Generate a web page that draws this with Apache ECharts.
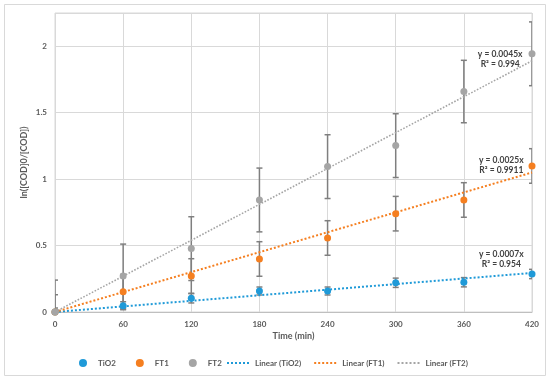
<!DOCTYPE html>
<html>
<head>
<meta charset="utf-8">
<script src="https://cdn.jsdelivr.net/npm/echarts@6/dist/echarts.min.js"></script>
<style>
html,body{margin:0;padding:0;background:#fff;}
#c{width:550px;height:380px;}
</style>
</head>
<body>
<div id="c"></div>
<script>
// ---- data ----
var times = [0, 60, 120, 180, 240, 300, 360, 420];
var tio2 = [0, 0.047, 0.103, 0.158, 0.158, 0.22, 0.224, 0.286];
var ft1  = [0, 0.153, 0.271, 0.399, 0.557, 0.74, 0.843, 1.099];
var ft2  = [0, 0.271, 0.477, 0.843, 1.094, 1.252, 1.659, 1.943];
var tio2Err = [0.03, 0.03, 0.035, 0.03, 0.03, 0.035, 0.035, 0.035];
var ft1Err  = [0.13, 0.13, 0.13, 0.13, 0.13, 0.13, 0.13, 0.13];
var ft2Err  = [0.24, 0.24, 0.24, 0.24, 0.24, 0.24, 0.235, 0.24];
var seriesNames = ['TiO2', 'FT1', 'FT2'];
var slopes = [0.0007, 0.0025, 0.0045];
var r2 = ['0.954', '0.9911', '0.994'];
var eqLabelPos = [[393, 0.40], [393, 1.106], [392, 1.90]];
var yTicks = [0, 0.5, 1, 1.5, 2];

var colors = ['#1f9ad8', '#f57f20', '#a5a5a5'];
var values = [tio2, ft1, ft2];
var errs = [tio2Err, ft1Err, ft2Err];
var FONT = 'Lato';
var TXT = '#595959';

function pts(v){ return times.map(function(t,i){ return [t, v[i]]; }); }
function errData(v,e){ return times.map(function(t,i){ return [t, v[i], e[i]]; }); }

var series = [];
// error bars
values.forEach(function(v, k){
  series.push({
    type: 'custom',
    name: seriesNames[k] + ' err',
    data: errData(v, errs[k]),
    clip: true,
    z: 2,
    silent: true,
    renderItem: function(params, api){
      var x = api.value(0), y = api.value(1), e = api.value(2);
      var top = api.coord([x, y + e]);
      var bot = api.coord([x, y - e]);
      var w = 3;
      var st = {stroke: '#7f7f7f', lineWidth: 1.5};
      return {type: 'group', children: [
        {type: 'line', shape: {x1: top[0], y1: top[1], x2: bot[0], y2: bot[1]}, style: st},
        {type: 'line', shape: {x1: top[0]-w, y1: top[1], x2: top[0]+w, y2: top[1]}, style: st},
        {type: 'line', shape: {x1: bot[0]-w, y1: bot[1], x2: bot[0]+w, y2: bot[1]}, style: st}
      ]};
    }
  });
});
// trend lines
slopes.forEach(function(s, k){
  series.push({
    type: 'line',
    name: 'Linear (' + seriesNames[k] + ')',
    data: [[0, 0], [420, s * 420]],
    symbol: 'none',
    z: 3,
    color: colors[k],
    lineStyle: {color: colors[k], width: k === 2 ? 1.6 : 2, type: 'dotted'},
    markPoint: {
      symbol: 'circle', symbolSize: 0,
      data: [{coord: eqLabelPos[k]}],
      label: {
        show: true, position: 'inside',
        formatter: 'y = ' + s + 'x\nR² = ' + r2[k],
        fontFamily: FONT, fontWeight: 'bold', fontSize: 8.5, color: '#404040',
        lineHeight: 10, align: 'center'
      }
    }
  });
});
// data points
values.forEach(function(v, k){
  series.push({
    type: 'scatter',
    name: seriesNames[k],
    data: pts(v),
    symbol: 'circle',
    symbolSize: 7,
    z: 5,
    itemStyle: {color: colors[k], opacity: 1}
  });
});

var chart = echarts.init(document.getElementById('c'));
chart.setOption({
  animation: false,
  backgroundColor: '#fff',
  graphic: [{
    type: 'rect', shape: {x: 4.5, y: 4.5, width: 541, height: 371},
    style: {fill: 'none', stroke: '#d9d9d9', lineWidth: 1}, z: -1, silent: true
  }],
  grid: {left: 55, right: 18, top: 13, bottom: 68, show: true, borderColor: '#d9d9d9', borderWidth: 1},
  xAxis: {
    type: 'value', min: 0, max: 420, interval: 60,
    name: 'Time (min)', nameLocation: 'middle', nameGap: 20, nameMoveOverlap: false,
    nameTextStyle: {fontFamily: FONT, fontWeight: 'bold', fontSize: 9, color: TXT},
    axisLine: {show: true, lineStyle: {color: '#bfbfbf'}},
    axisTick: {show: false},
    axisLabel: {fontFamily: FONT, fontWeight: 'bold', fontSize: 8, color: TXT, margin: 8},
    splitLine: {show: true, lineStyle: {color: '#d9d9d9'}}
  },
  yAxis: {
    type: 'value', min: 0, max: 2.25, interval: 0.5,
    name: 'ln([COD]0/[COD])', nameLocation: 'middle', nameGap: 26, nameMoveOverlap: false,
    nameTextStyle: {fontFamily: FONT, fontWeight: 'bold', fontSize: 9, color: TXT},
    axisLine: {show: false}, axisTick: {show: false},
    axisLabel: {fontFamily: FONT, fontWeight: 'bold', fontSize: 8, color: TXT, margin: 8,
      showMaxLabel: false,
      formatter: function(v){ return yTicks.indexOf(v) >= 0 ? String(v) : ''; }},
    splitLine: {show: true, lineStyle: {color: '#d9d9d9'}}
  },
  legend: [{
    data: seriesNames, left: 74, top: 354,
    icon: 'circle', itemWidth: 8, itemHeight: 8, itemGap: 20,
    itemStyle: {opacity: 1},
    textStyle: {fontFamily: FONT, fontWeight: 'bold', fontSize: 8, color: TXT, padding: [0, 0, 0, 6]}
  }, {
    data: seriesNames.map(function(n){ return 'Linear (' + n + ')'; }), left: 221, top: 354,
    itemWidth: 23, itemHeight: 8, itemGap: 12,
    itemStyle: {color: 'rgba(0,0,0,0)', borderWidth: 0},
    textStyle: {fontFamily: FONT, fontWeight: 'bold', fontSize: 8, color: TXT}
  }],
  series: series
});
</script>
</body>
</html>
